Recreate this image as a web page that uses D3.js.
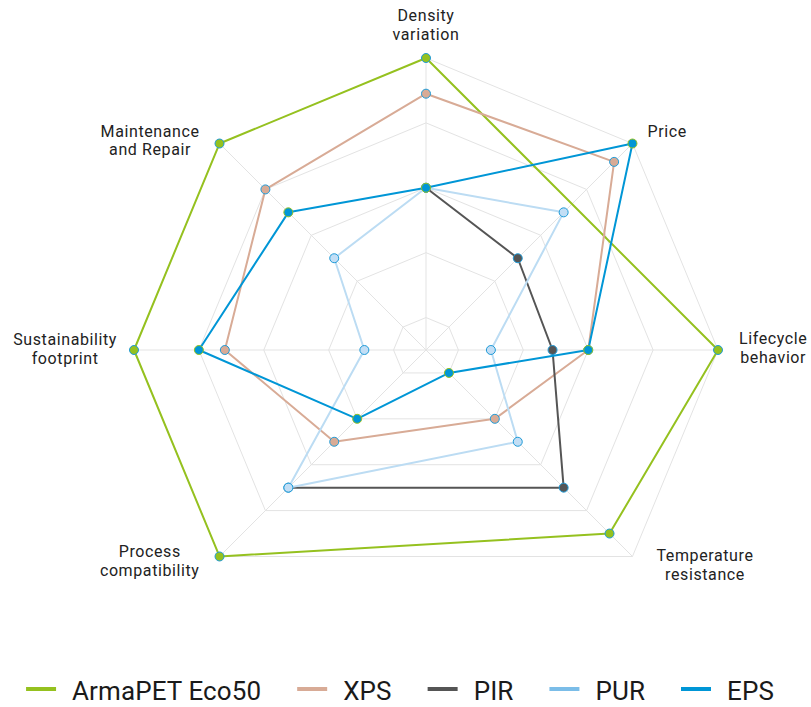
<!DOCTYPE html>
<html>
<head>
<meta charset="utf-8">
<script src="https://cdn.jsdelivr.net/npm/d3@7"></script>
<style>
  html, body { margin: 0; padding: 0; background: #fff; }
  svg { display: block; font-family: Roboto, "Open Sans", sans-serif; }
</style>
</head>
<body>
<svg id="chart" width="811" height="707"></svg>
<script>
// ---- data ----
const categories = [
  ["Density", "variation"],
  ["Price"],
  ["Lifecycle", "behavior"],
  ["Temperature", "resistance"],
  ["Process", "compatibility"],
  ["Sustainability", "footprint"],
  ["Maintenance", "and Repair"]
];
const seriesNames = ["ArmaPET Eco50", "XPS", "PIR", "PUR", "EPS"];
const armapet = [5, null, 5, 4.5, 5, 5, 5];
const xps     = [4.45, 4.6, 3, 2, 2.5, 3.6, 4];
const pir     = [3, 2.5, 2.45, 3.5, 3.5, null, null];
const pur     = [3, 3.5, 1.5, 2.5, 3.5, 1.45, 2.5];
const eps     = [3, 5, 3, 1, 2, 4, 3.5];
const gridLevels = [1, 2, 3, 4, 5];

// ---- styles ----
const lineColors   = ["#95c11f", "#d8ab96", "#555555", "#bcdcf3", "#0096d6"];
const legendColors = ["#95c11f", "#d8ab96", "#555555", "#7bbde8", "#0096d6"];
const markerFill   = ["#95c11f", "#d8ab96", "#555555", "#c2def5", "#0096d6"];
const markerStroke = ["#1f9bd8", "#1f9bd8", "#1f9bd8", "#1f9bd8", "#95c11f"];
const allSeries = [armapet, xps, pir, pur, eps];

const svg = d3.select("#chart");
const cx = 426, cy = 350, R = 292;

const r = d3.scaleLinear().domain([0.5, 5]).range([0, R]);
// 8 angular slots, the bottom one (slot 4) is empty
const slotOf = i => (i < 4 ? i : i + 1);
const angle = d3.scaleLinear().domain([0, 8]).range([0, 2 * Math.PI]);
const pt = (i, v) => {
  const a = angle(slotOf(i));
  return [cx + r(v) * Math.sin(a), cy - r(v) * Math.cos(a)];
};

// ---- grid ----
const grid = svg.append("g");
gridLevels.forEach(lv => {
  const pts = categories.map((c, i) => pt(i, lv));
  grid.append("path")
    .attr("d", d3.line()(pts) + "Z")
    .attr("fill", "none").attr("stroke", "#e3e3e3").attr("stroke-width", 1);
});
categories.forEach((c, i) => {
  const [x, y] = pt(i, 5);
  grid.append("line")
    .attr("x1", cx).attr("y1", cy).attr("x2", x).attr("y2", y)
    .attr("stroke", "#e3e3e3").attr("stroke-width", 1);
});

// ---- series ----
allSeries.forEach((data, s) => {
  const g = svg.append("g");
  const defined = data.map((v, i) => ({ i, v })).filter(d => d.v != null);
  const pts = defined.map(d => pt(d.i, d.v));
  const closed = data[data.length - 1] != null && data[0] != null;
  g.append("path")
    .attr("d", d3.line()(pts) + (closed ? "Z" : ""))
    .attr("fill", "none")
    .attr("stroke", lineColors[s])
    .attr("stroke-width", 2)
    .attr("stroke-linejoin", "round");
  g.selectAll("circle").data(defined).enter().append("circle")
    .attr("cx", d => pt(d.i, d.v)[0])
    .attr("cy", d => pt(d.i, d.v)[1])
    .attr("r", 4.5)
    .attr("fill", markerFill[s])
    .attr("stroke", markerStroke[s])
    .attr("stroke-width", 1);
});

// ---- axis labels ----
const lh = 18.8;
const labels = svg.append("g").attr("font-size", 16).attr("fill", "#222")
  .attr("letter-spacing", 0.6);
categories.forEach((lines, i) => {
  const [px, py] = pt(i, 5);
  const deg = slotOf(i) * 45;
  const g = labels.append("g");
  const texts = lines.map((ln, k) =>
    g.append("text").attr("text-anchor", "middle").attr("x", 0).attr("y", k * lh).text(ln));
  const w = d3.max(texts, t => t.node().getComputedTextLength());
  let bx, by; // block center x, first baseline y
  if (deg === 0) { bx = px; by = py - 18 - lh * (lines.length - 1); }
  else if (deg === 45) { bx = px + 15 + w / 2; by = py - 7; }
  else if (deg === 90) { bx = px + 21 + w / 2; by = py - 6; }
  else if (deg === 135) { bx = px + 24 + w / 2; by = py + 4.5; }
  else if (deg === 225) { bx = px - 20 - w / 2; by = py + 1; }
  else if (deg === 270) { bx = px - 17 - w / 2; by = py - 5; }
  else { bx = px - 20 - w / 2; by = py - 7; }
  g.attr("transform", `translate(${bx},${by})`);
});

// ---- legend ----
const legend = svg.append("g");
let x = 0;
seriesNames.forEach((name, s) => {
  const g = legend.append("g");
  g.append("line").attr("x1", 0).attr("x2", 30).attr("y1", 689).attr("y2", 689)
    .attr("stroke", legendColors[s]).attr("stroke-width", 4);
  const tx = g.append("text").attr("x", 46).attr("y", 700)
    .attr("font-size", 26).attr("letter-spacing", 0.1).attr("fill", "#1a1a1a").text(name);
  const w = 46 + tx.node().getComputedTextLength();
  g.attr("transform", `translate(${x},0)`);
  x += w + 36;
});
const total = x - 36;
legend.attr("transform", `translate(${400 - total / 2},0)`);
</script>
</body>
</html>
